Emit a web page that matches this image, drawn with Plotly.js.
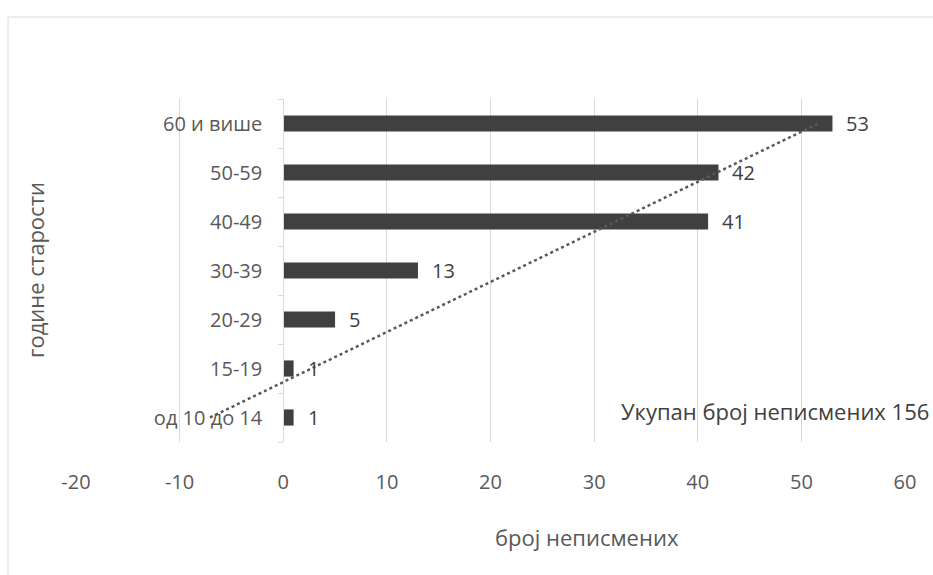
<!DOCTYPE html>
<html>
<head>
<meta charset="utf-8">
<script src="https://cdn.plot.ly/plotly-3.0.1.min.js"></script>
<style>
  html, body { margin: 0; padding: 0; background: #ffffff; }
  #chart { width: 933px; height: 575px; }
</style>
</head>
<body>
<div id="chart"></div>
<script>
// Data (bottom to top)
const categories = ['од 10 до 14', '15-19', '20-29', '30-39', '40-49', '50-59', '60 и више'];
const counts = [1, 1, 5, 13, 41, 42, 53];
const xTickValues = [-20, -10, 0, 10, 20, 30, 40, 50, 60];
const xTickLabels = ['-20', '-10', '0', '10', '20', '30', '40', '50', '60'];
const xTitle = 'број неписмених';
const yTitle = 'године старости';
const totalNote = 'Укупан број неписмених 156';

// Linear trendline (least squares over category index)
const n = counts.length;
const idx = counts.map((_, i) => i + 1);
const mx = idx.reduce((a, b) => a + b, 0) / n;
const my = counts.reduce((a, b) => a + b, 0) / n;
let sxy = 0, sxx = 0;
for (let i = 0; i < n; i++) { sxy += (idx[i] - mx) * (counts[i] - my); sxx += (idx[i] - mx) ** 2; }
const slope = sxy / sxx;
const icpt = my - slope * mx;
const trendX = [icpt + slope * 1, icpt + slope * n];
const trendY = [categories[0], categories[n - 1]];

const FONT = 'Open Sans';
const TXT = '#595959';

const bars = {
  type: 'bar', orientation: 'h',
  y: categories, x: counts,
  marker: { color: '#404040' },
  hoverinfo: 'none'
};
const trend = {
  type: 'scatter', mode: 'lines',
  x: trendX, y: trendY,
  line: { color: '#595959', width: 2.5, dash: 'dot' },
  hoverinfo: 'none'
};

const annotations = counts.map((v, i) => ({
  x: v, y: categories[i], xref: 'x', yref: 'y',
  text: String(v), showarrow: false, xanchor: 'left', xshift: 12,
  font: { family: FONT, size: 20, color: '#404040' }
}));
annotations.push({
  x: 32.4, y: categories[0], xref: 'x', yref: 'y', yshift: 7,
  text: totalNote, showarrow: false, xanchor: 'left',
  font: { family: FONT, size: 22, color: '#404040' }
});
annotations.push({
  x: 0.616, y: -0.277, xref: 'paper', yref: 'paper',
  text: xTitle, showarrow: false, xanchor: 'center', yanchor: 'middle',
  font: { family: FONT, size: 22, color: TXT }
});
annotations.push({
  x: -0.05, y: 0.5, xref: 'paper', yref: 'paper',
  text: yTitle, showarrow: false, textangle: -90, xanchor: 'center', yanchor: 'middle',
  font: { family: FONT, size: 22, color: TXT }
});

const layout = {
  width: 933, height: 575,
  margin: { l: 76, r: 28, t: 99, b: 133 },
  paper_bgcolor: '#ffffff', plot_bgcolor: '#ffffff',
  showlegend: false,
  bargap: 0.67,
  font: { family: FONT, color: TXT },
  xaxis: {
    range: [-20, 60], tickvals: xTickValues, ticktext: xTickLabels,
    showgrid: true, gridcolor: '#d9d9d9', gridwidth: 1,
    zeroline: false, showline: false, ticks: '',
    ticklabelstandoff: 26,
    tickfont: { family: FONT, size: 20, color: TXT },
    fixedrange: true
  },
  yaxis: {
    type: 'category', anchor: 'free', position: 0.25,
    showgrid: false, zeroline: false,
    showline: true, linecolor: '#d9d9d9', linewidth: 1,
    ticks: 'outside', tickson: 'boundaries', ticklen: 5, tickcolor: '#d9d9d9',
    ticklabelstandoff: 17,
    tickfont: { family: FONT, size: 20, color: TXT },
    fixedrange: true
  },
  annotations: annotations,
  shapes: [{
    type: 'rect', xref: 'paper', yref: 'paper',
    x0: -0.082, x1: 1.05, y0: -0.42, y1: 1.239,
    line: { color: '#d9d9d9', width: 1 }, fillcolor: 'rgba(0,0,0,0)', layer: 'below'
  }]
};

Plotly.newPlot('chart', [bars, trend], layout, { displayModeBar: false, staticPlot: true });
</script>
</body>
</html>
